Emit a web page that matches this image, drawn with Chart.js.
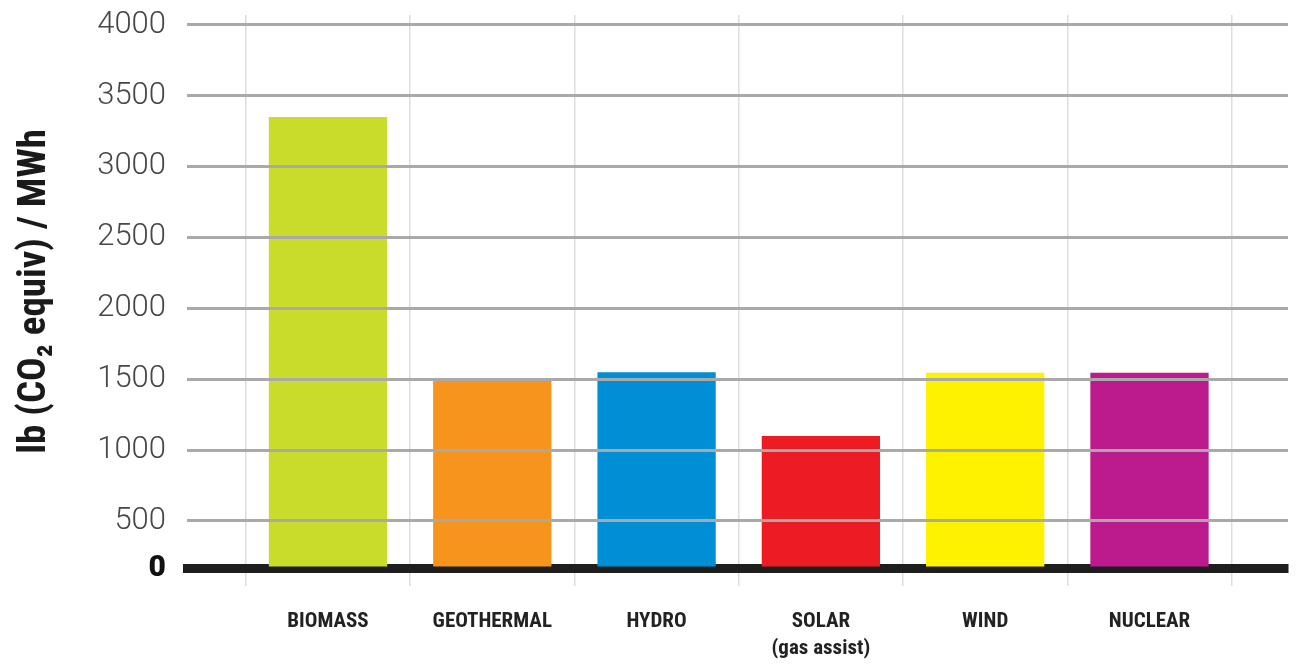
<!DOCTYPE html>
<html>
<head>
<meta charset="utf-8">
<script src="https://cdn.jsdelivr.net/npm/chart.js@4/dist/chart.umd.min.js"></script>
<style>
  html, body { margin: 0; padding: 0; background: #fff; }
  #wrap { width: 1297px; height: 664px; }
</style>
</head>
<body>
<div id="wrap"><canvas id="co2Chart"></canvas></div>
<script>
const categories = ["BIOMASS", "GEOTHERMAL", "HYDRO", ["SOLAR", "(gas assist)"], "WIND", "NUCLEAR"];
const emissions = [3350, 1490, 1550, 1100, 1545, 1545];
const barColors = ["#c9dc2c", "#f7941e", "#008fd5", "#ed1c24", "#fff200", "#bb1b8c"];
const yTickValues = [0, 500, 1000, 1500, 2000, 2500, 3000, 3500, 4000];
// the "0" baseline of the original sits above true zero (broken axis)
const axisFloor = 168;
const axisTop = 4070;

const narrow = "'Liberation Sans Narrow', 'Roboto Condensed', 'DejaVu Sans Condensed', 'Liberation Sans', sans-serif";
const xMin = -0.858, xMax = 5.843;

const co2Chart = new Chart(document.getElementById("co2Chart"), {
  type: "bar",
  data: {
    datasets: [{
      label: "lb CO2 equiv / MWh",
      data: emissions.map((v, i) => ({ x: i, y: v })),
      backgroundColor: barColors,
      borderWidth: 0,
      base: axisFloor,
      barPercentage: 0.72,
      categoryPercentage: 1.0
    }]
  },
  options: {
    responsive: true,
    maintainAspectRatio: false,
    animation: false,
    layout: { padding: { top: 15, right: 9, bottom: 0, left: 0 } },
    plugins: { legend: { display: false }, tooltip: { enabled: false } },
    scales: {
      x: {
        type: "linear",
        position: "bottom",
        min: xMin, max: xMax,
        offset: false,
        afterBuildTicks: (s) => { s.ticks = [-0.5, 0.5, 1.5, 2.5, 3.5, 4.5, 5.5].map(v => ({ value: v })); },
        afterFit: (s) => { s.height = 18; s.paddingLeft = 0; s.paddingRight = 0; },
        ticks: { display: false },
        grid: { offset: false, color: "#dddddd", lineWidth: 1.5, tickLength: 18, z: -1 },
        border: { display: true, color: "#1e1e1e", width: 9, z: 0 }
      },
      xl: {
        type: "linear",
        position: "bottom",
        min: xMin, max: xMax,
        offset: false,
        afterBuildTicks: (s) => { s.ticks = categories.map((c, i) => ({ value: i })); },
        afterFit: (s) => { s.height = 78; s.paddingLeft = 0; s.paddingRight = 0; },
        grid: { display: false, offset: false },
        border: { display: false },
        ticks: {
          autoSkip: false,
          maxRotation: 0,
          padding: 14,
          color: "#222",
          font: { family: narrow, size: 21, weight: "bold", lineHeight: 1.3 },
          callback: (v) => categories[Math.round(v)]
        }
      },
      y: {
        min: axisFloor, max: axisTop,
        afterBuildTicks: (s) => {
          s.ticks = yTickValues.map(v => ({ value: v === 0 ? axisFloor : v }));
        },
        afterFit: (s) => { s.width = 187; s.paddingTop = 0; s.paddingBottom = 0; },
        border: { display: false },
        grid: {
          z: 1,
          drawTicks: false,
          lineWidth: 3,
          color: (ctx) => ctx.tick && ctx.tick.value === axisFloor ? "rgba(0,0,0,0)" : "#a9a9a9"
        },
        ticks: {
          padding: 21,
          color: (ctx) => ctx.tick && ctx.tick.value === axisFloor ? "#111" : "#474747",
          font: (ctx) => ctx.tick && ctx.tick.value === axisFloor
            ? { family: "Roboto, 'DejaVu Sans', sans-serif", size: 30, weight: "900" }
            : { family: "Roboto, 'Liberation Sans', sans-serif", size: 31, weight: "300" },
          callback: (v) => v === axisFloor ? "0" : String(v)
        },
        title: {
          display: true,
          text: "lb (CO\u2082 equiv) / MWh",
          color: "#1a1a1a",
          font: { family: narrow, size: 39, weight: "bold", lineHeight: 1.2 },
          padding: { top: 12, bottom: 0 }
        }
      }
    }
  }
});
</script>
</body>
</html>
